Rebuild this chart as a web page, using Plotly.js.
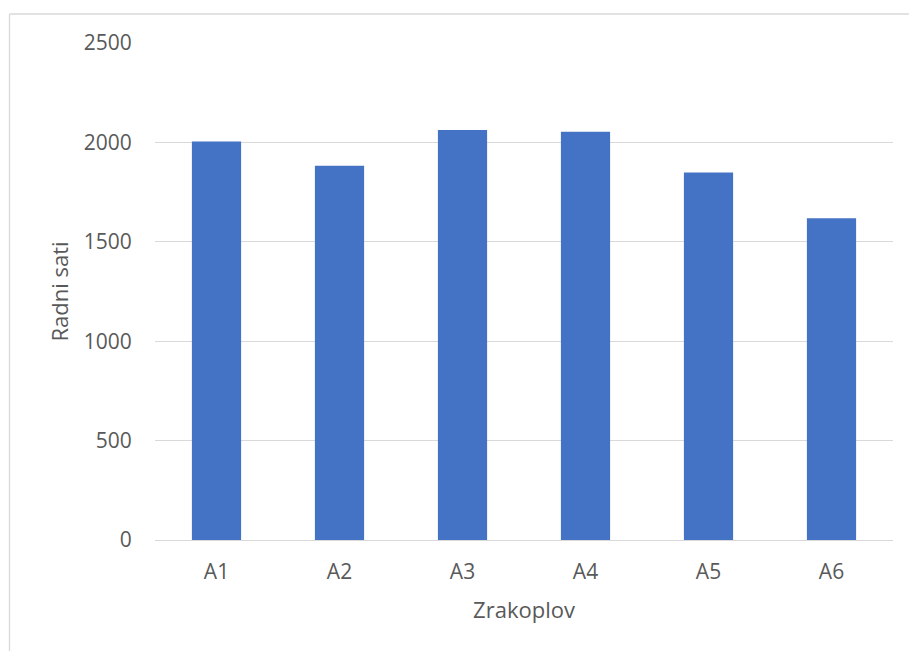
<!DOCTYPE html>
<html>
<head>
<meta charset="utf-8">
<script src="https://cdn.plot.ly/plotly-3.0.1.min.js"></script>
<style>
html,body{margin:0;padding:0;background:#fff;}
#chart{width:909px;height:651px;}
</style>
</head>
<body>
<div id="chart"></div>
<script>
const categories = ["A1", "A2", "A3", "A4", "A5", "A6"];
const radniSati = [2005, 1883, 2062, 2054, 1849, 1618];
const yTicks = [0, 500, 1000, 1500, 2000, 2500];

const font = {family: "Open Sans, sans-serif", color: "#595959"};

const data = [{
  type: "bar",
  x: categories,
  y: radniSati,
  marker: {color: "#4472C4"},
  width: 0.4,
  hoverinfo: "x+y"
}];

const layout = {
  width: 909,
  height: 651,
  margin: {l: 155, r: 16, t: 42.5, b: 111.3, pad: 0},
  paper_bgcolor: "#ffffff",
  plot_bgcolor: "#ffffff",
  font: font,
  showlegend: false,
  bargap: 0.6,
  xaxis: {
    type: "category",
    showgrid: false,
    showline: true,
    linecolor: "#D9D9D9",
    linewidth: 1.3,
    ticks: "outside",
    ticklen: 12,
    tickcolor: "rgba(0,0,0,0)",
    tickfont: {family: font.family, size: 21, color: "#595959"},
    title: {text: "Zrakoplov", font: {family: font.family, size: 22, color: "#595959"}, standoff: 19},
    automargin: true,
    fixedrange: true
  },
  yaxis: {
    range: [0, 2500],
    tickvals: yTicks,
    ticktext: yTicks.map(String),
    showgrid: true,
    gridcolor: "#D9D9D9",
    gridwidth: 1.3,
    zeroline: false,
    showline: false,
    ticks: "outside",
    ticklen: 18,
    tickcolor: "rgba(0,0,0,0)",
    tickfont: {family: font.family, size: 21, color: "#595959"},
    title: {text: "Radni sati", font: {family: font.family, size: 22, color: "#595959"}, standoff: 9},
    automargin: true,
    fixedrange: true
  },
  shapes: [
    {type: "line", xref: "paper", yref: "paper",
     x0: (9.5 - 155) / 738, x1: (912 - 155) / 738,
     y0: 1 + (42.5 - 13.5) / 497.2, y1: 1 + (42.5 - 13.5) / 497.2,
     line: {color: "#D9D9D9", width: 1.3}},
    {type: "line", xref: "paper", yref: "paper",
     x0: (9.5 - 155) / 738, x1: (9.5 - 155) / 738,
     y0: 1 + (42.5 - 13.5) / 497.2, y1: -(660 - 539.7) / 497.2,
     line: {color: "#D9D9D9", width: 1.3}}
  ]
};

Plotly.newPlot("chart", data, layout, {displayModeBar: false, staticPlot: true});
</script>
</body>
</html>
